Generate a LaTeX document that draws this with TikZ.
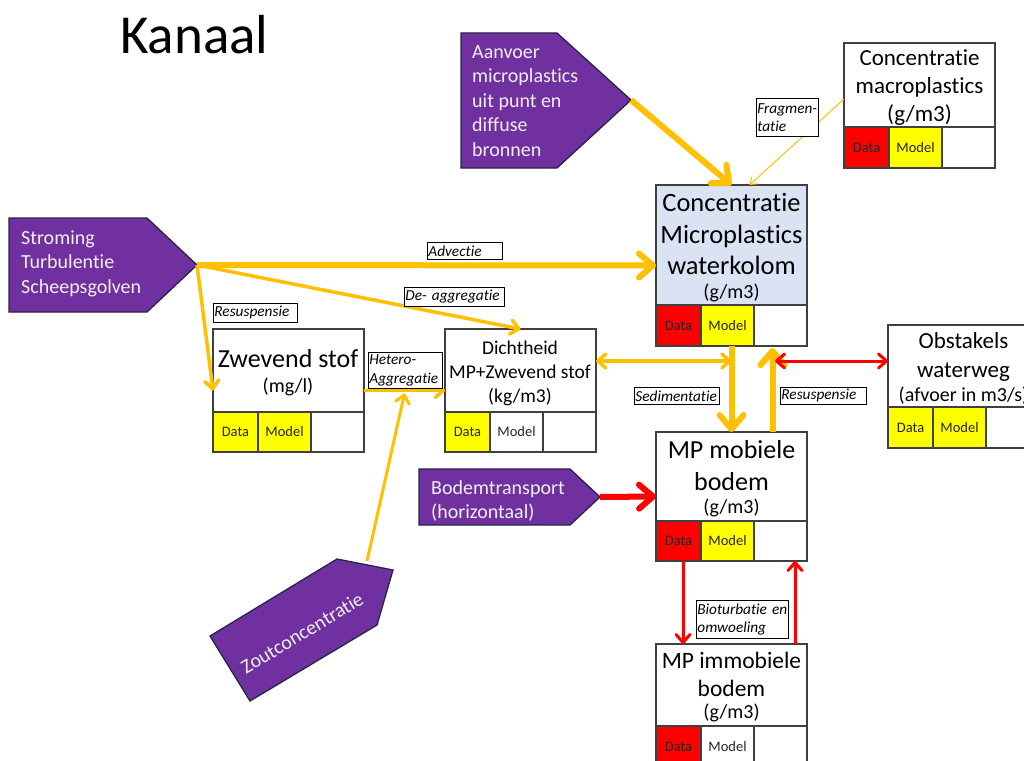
\documentclass[tikz,border=0pt]{standalone}
\usepackage{fontspec}
\setmainfont{Carlito}[RawFeature={-liga;-clig;-dlig}]
\usetikzlibrary{arrows.meta,calc}

\definecolor{kgold}{HTML}{FFC000}
\definecolor{kred}{HTML}{FF0000}
\definecolor{kyel}{HTML}{FFFF00}
\definecolor{kpurple}{HTML}{7030A0}
\definecolor{kpurpleedge}{HTML}{26244A}
\definecolor{kblue}{HTML}{DAE3F3}
\definecolor{kframe}{HTML}{404040}

\newcommand\fsz[2]{\fontsize{#1}{#2}\selectfont}

\tikzset{
  boxframe/.style={draw=kframe, line width=1.3pt, inner sep=0pt, outer sep=0pt},
  cellbox/.style={draw=kframe, line width=1.3pt, inner sep=0pt, outer sep=0pt,
    font=\fsz{14.5}{16}, text=black!85},
  boxtext/.style={align=center, inner sep=0pt, text=black},
  flowlabel/.style={draw=black, line width=0.8pt, fill=white,
    font=\itshape\fsz{15.3}{18.5}, inner xsep=1pt, inner ysep=0pt,
    align=left, anchor=north west},
  sourcebox/.style={fill=kpurple, draw=kpurpleedge, line width=1.3pt, line join=miter},
  sourcetext/.style={text=white!94!black, font=\fsz{20}{24.5}, align=left,
    inner sep=0pt, anchor=west},
  bigbarb/.tip={Straight Barb[length=14pt,width=24pt,line cap=round,line join=round]},
  midbarb/.tip={Straight Barb[length=8pt,width=14pt,line cap=round,line join=round]},
  smallbarb/.tip={Straight Barb[length=6pt,width=9pt]},
  goldthick/.style={draw=kgold, line width=6pt, -bigbarb},
  goldmid/.style={draw=kgold, line width=3.5pt, -midbarb},
  goldboth/.style={draw=kgold, line width=3.5pt, midbarb-midbarb},
  goldthin/.style={draw=kgold, line width=1pt, -smallbarb},
  redthick/.style={draw=kred, line width=6pt, -bigbarb},
  redmid/.style={draw=kred, line width=3pt, -midbarb},
  redboth/.style={draw=kred, line width=3pt, midbarb-midbarb},
}

% box with a text area on top and a Data / Model / blank row below
% #1 name, #2 left, #3 top, #4 total height, #5 row height,
% #6 Data fill, #7 Model fill, #8 top fill
\newcommand\databox[8]{%
  \node[boxframe, fill=#8, minimum width=151pt, minimum height=#4pt,
        anchor=north west] (#1) at (#2,#3) {};
  \node[cellbox, fill=#6, minimum width=45pt, minimum height=#5pt,
        anchor=south west] (#1-d) at (#1.south west) {Data};
  \node[cellbox, fill=#7, minimum width=53pt, minimum height=#5pt,
        anchor=south west] (#1-m) at (#1-d.south east) {Model};
  \node[cellbox, fill=white, minimum width=53pt, minimum height=#5pt,
        anchor=south west] (#1-e) at (#1-m.south east) {};
}

\begin{document}
\begin{tikzpicture}[x=1pt, y=-1pt]
\path[use as bounding box, fill=white] (0,0) rectangle (1024,760);
\clip (0,0) rectangle (1024,760);

% title
\node[anchor=base west, inner sep=0pt, font=\fsz{55}{60}] (title) at (120,53) {Kanaal};

% boxes
\databox{macro}{844}{43}{125}{41}{kred}{kyel}{white}
\databox{main}{656}{185}{161}{41}{kred}{kyel}{kblue}
\databox{zwev}{213}{329}{123}{40}{kyel}{kyel}{white}
\databox{dicht}{445}{329}{123}{40}{kyel}{white}{white}
\databox{obst}{888}{325}{123}{41}{kyel}{kyel}{white}
\databox{mob}{656}{432}{129}{40}{kred}{kyel}{white}
\databox{immob}{656}{644}{123}{41}{kred}{white}{white}

% box texts
\node[boxtext, font=\fsz{23}{28}] (macroT) at (919.5,88) {Concentratie\\macroplastics\\(g/m3)};
\node[boxtext, font=\fsz{26.5}{31.5}] (mainT) at (731.5,234) {Concentratie\\Microplastics\\waterkolom};
\node[boxtext, font=\fsz{20}{24}] (mainU) at (731.5,293) {(g/m3)};
\node[boxtext, font=\fsz{26}{30}] (zwevT) at (288,359) {Zwevend stof};
\node[boxtext, font=\fsz{20}{24}] (zwevU) at (288,387) {(mg/l)};
\node[boxtext, font=\fsz{19.5}{24}] (dichtT) at (520,373) {Dichtheid\\MP+Zwevend stof\\(kg/m3)};
\node[boxtext, font=\fsz{23}{29}] (obstT) at (963.5,357) {Obstakels\\waterweg};
\node[boxtext, font=\fsz{20}{24}] (obstU) at (963.5,396) {(afvoer in m3/s)};
\node[boxtext, font=\fsz{26}{32}] (mobT) at (731.5,466) {MP mobiele\\bodem};
\node[boxtext, font=\fsz{20}{24}] (mobU) at (731.5,508) {(g/m3)};
\node[boxtext, font=\fsz{23.5}{28}] (immobT) at (731.5,674) {MP immobiele\\bodem};
\node[boxtext, font=\fsz{20}{24}] (immobU) at (731.5,713) {(g/m3)};

% sources (pentagon arrows)
\draw[sourcebox] (461,33) -- (557,33) -- (631,100) -- (557,168) -- (461,168) -- cycle;
\coordinate (aanvoerTip) at (631,100);
\node[sourcetext] (aanvoerT) at (472,101) {Aanvoer\\microplastics\\uit punt en\\diffuse\\bronnen};

\draw[sourcebox] (9,218) -- (147,218) -- (197,265) -- (147,312) -- (9,312) -- cycle;
\coordinate (stromingTip) at (197,265);
\node[sourcetext] (stromingT) at (21,263.5) {Stroming\\Turbulentie\\Scheepsgolven};

\draw[sourcebox] (419,469) -- (570,469) -- (600,497) -- (570,525) -- (419,525) -- cycle;
\coordinate (bodemTip) at (600,497);
\node[sourcetext] (bodemT) at (431,501) {Bodemtransport\\(horizontaal)};

\draw[sourcebox] (210,636) -- (337,559) -- (393,570) -- (377,625) -- (250,701) -- cycle;
\coordinate (saltTop) at (367,561);
\node[text=white!94!black, font=\fsz{20}{24}, inner sep=0pt, rotate=31] (saltT) at (302,633) {Zoutconcentratie};

% helper points on other connectors
\coordinate (heteroMid) at ($(zwev.east)!0.5!(dicht.west)$);
\coordinate (sedMid) at (731.5,361);
\coordinate (resMid) at (775,361);

% connectors
\draw[goldthick] (aanvoerTip) -- (main.north);
\draw[goldthin] ([yshift=6.5pt]macro.west) -- ([xshift=18pt]main.north);
\draw[goldthick] (stromingTip) -- (main.west);
\draw[goldmid] (stromingTip) -- (dicht.north);
\draw[goldmid] (stromingTip) -- (zwev.west);
\draw[goldmid] (zwev.east) -- (dicht.west);
\draw[goldmid, line width=3pt] (saltTop) -- ([yshift=-3pt]heteroMid);
\draw[goldboth] ([yshift=29.5pt]dicht.east) -- (sedMid);
\draw[goldthick] (main.south) -- (mob.north);
\draw[goldthick] ([xshift=41pt]mob.north) -- ([xshift=41pt,yshift=-2pt]main.south);
\draw[redboth] (resMid) -- ([yshift=25.5pt]obst.west);
\draw[redthick] (bodemTip) -- (mob.west);
\draw[redmid] ([xshift=-48.5pt]mob.south) -- ([xshift=-48.5pt]immob.north);
\draw[redmid] ([xshift=63.5pt]immob.north) -- ([xshift=63.5pt]mob.south);

% connector labels
\node[flowlabel, text width=73pt, minimum height=17pt] (advL) at (427,242) {Advectie};
\node[flowlabel, text width=98pt, minimum height=19pt] (deaggL) at (404,287) {De- aggregatie};
\node[flowlabel, text width=82pt, minimum height=19pt] (resL) at (213,303) {Resuspensie};
\node[flowlabel, text width=72pt, minimum height=36pt] (hetL) at (368,352) {Hetero-\\Aggregatie};
\node[flowlabel, text width=83pt, minimum height=17pt] (sedL) at (634,387) {Sedimentatie};
\node[flowlabel, text width=84pt, minimum height=17pt] (resRL) at (780,387) {Resuspensie};
\node[flowlabel, text width=60pt, minimum height=38pt] (fragL) at (756,98) {Fragmen-\\tatie};
\node[flowlabel, text width=90pt, minimum height=38pt] (bioL) at (696,600) {Bioturbatie en\\omwoeling};
\end{tikzpicture}
\end{document}
